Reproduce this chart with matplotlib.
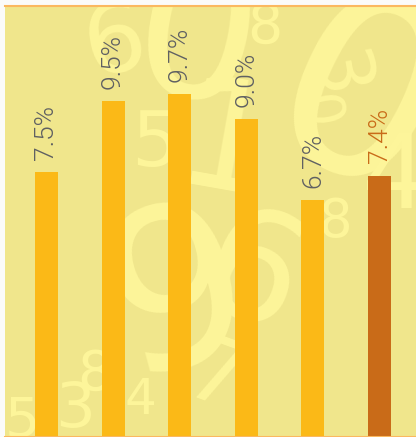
import matplotlib
matplotlib.use("Agg")
import matplotlib.pyplot as plt

values = [7.5, 9.5, 9.7, 9.0, 6.7, 7.4]
labels = ["7.5%", "9.5%", "9.7%", "9.0%", "6.7%", "7.4%"]
bar_colors = ["#fbb917", "#fbb917", "#fbb917", "#fbb917", "#fbb917", "#c96b18"]
label_colors = ["#5f6062", "#5f6062", "#5f6062", "#5f6062", "#5f6062", "#c96b18"]

W, H = 416, 437
fig = plt.figure(figsize=(W / 100, H / 100), dpi=100)
fig.patch.set_facecolor("#fbfbfa")
ax = fig.add_axes([5 / W, 0, 1 - 5 / W, (H - 6) / H])
ax.set_facecolor("#f0e68c")

# decorative background digits (figure pixel coords: x, y from top, size, rotation)
deco = [
    ("6", 115, 45, 70, 10),
    ("0", 195, 45, 140, -10),
    ("8", 265, 28, 40, 0),
    ("0", 355, 110, 180, -25),
    ("3", 335, 75, 55, -80),
    ("0", 318, 112, 38, -80),
    ("5", 155, 145, 55, 0),
    ("1", 225, 150, 110, -10),
    ("9", 180, 300, 160, 15),
    ("6", 250, 280, 110, -20),
    ("7", 215, 380, 65, -20),
    ("8", 335, 222, 38, 0),
    ("3", 75, 410, 45, 0),
    ("8", 95, 375, 40, 0),
    ("4", 140, 400, 36, 0),
    ("5", 22, 422, 40, 0),
    ("4", 395, 180, 75, 0),
]
for ch, px, py, size, rot in deco:
    ax.text(px / W, 1 - py / H, ch, transform=fig.transFigure, fontsize=size,
            color="#fdf59a", ha="center", va="center", rotation=rot,
            family="DejaVu Sans", zorder=0, clip_on=True)

x = list(range(len(values)))
ax.bar(x, values, width=0.345, color=bar_colors, zorder=2)
for xi, v, lab, c in zip(x, values, labels, label_colors):
    ax.annotate(lab, (xi, v), xytext=(0, 9), textcoords="offset points",
                rotation=90, ha="center", va="bottom", fontsize=19,
                fontweight=300, color=c, family=["Roboto", "DejaVu Sans"],
                zorder=3)

ax.set_xlim(-0.623, 5.548)
ax.set_ylim(0, 12.2)
ax.set_xticks([])
ax.set_yticks([])
for s in ["left", "right"]:
    ax.spines[s].set_visible(False)
for s in ["top", "bottom"]:
    ax.spines[s].set_color("#fbb860")
    ax.spines[s].set_linewidth(1.5)

fig.savefig("out.png", dpi=100)
